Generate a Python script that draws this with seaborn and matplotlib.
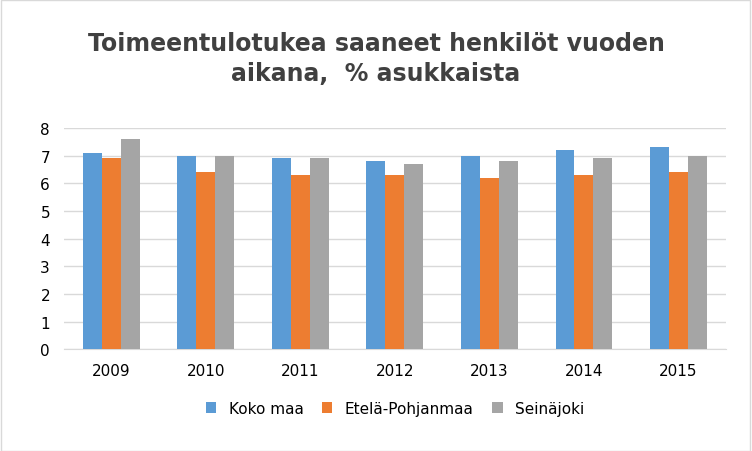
import matplotlib
matplotlib.use("Agg")
import matplotlib.pyplot as plt
import seaborn as sns
import pandas as pd

years = ["2009", "2010", "2011", "2012", "2013", "2014", "2015"]
koko_maa = [7.1, 7.0, 6.9, 6.8, 7.0, 7.2, 7.3]
etela_pohjanmaa = [6.9, 6.4, 6.3, 6.3, 6.2, 6.3, 6.4]
seinajoki = [7.6, 7.0, 6.9, 6.7, 6.8, 6.9, 7.0]
series = ["Koko maa", "Etelä-Pohjanmaa", "Seinäjoki"]
colors = ["#5B9BD5", "#ED7D31", "#A5A5A5"]

df = pd.DataFrame({"Vuosi": years * 3,
                   "Sarja": [series[0]] * 7 + [series[1]] * 7 + [series[2]] * 7,
                   "Arvo": koko_maa + etela_pohjanmaa + seinajoki})

fig = plt.figure(figsize=(7.52, 4.52), dpi=100)
ax = fig.add_axes([0.085, 0.225, 0.88, 0.49])
sns.barplot(data=df, x="Vuosi", y="Arvo", hue="Sarja", palette=colors,
            width=0.6, saturation=1, ax=ax, zorder=3, legend=True)
ax.set_ylim(0, 8)
ax.set_yticks(range(0, 9))
ax.grid(axis="y", color="#D9D9D9", linewidth=1, zorder=0)
for s in ax.spines.values():
    s.set_visible(False)
ax.spines["bottom"].set_visible(True)
ax.spines["bottom"].set_color("#D9D9D9")
ax.tick_params(length=0, labelsize=11, colors="#000000", pad=10)
ax.set_xlabel("")
ax.set_ylabel("")
ax.legend(loc="upper center", bbox_to_anchor=(0.5, -0.17), ncol=3, frameon=False,
          fontsize=11, handlelength=0.7, handleheight=0.7, columnspacing=1.2)
fig.text(0.5, 0.87, "Toimeentulotukea saaneet henkilöt vuoden\naikana,  % asukkaista",
         ha="center", va="center", fontsize=17, fontweight="semibold", color="#404040",
         linespacing=1.3)
fig.patches.append(plt.Rectangle((0.001, 0.001), 0.997, 0.997, transform=fig.transFigure,
                                 fill=False, edgecolor="#D9D9D9", linewidth=1))
fig.savefig("out.png", dpi=100)
